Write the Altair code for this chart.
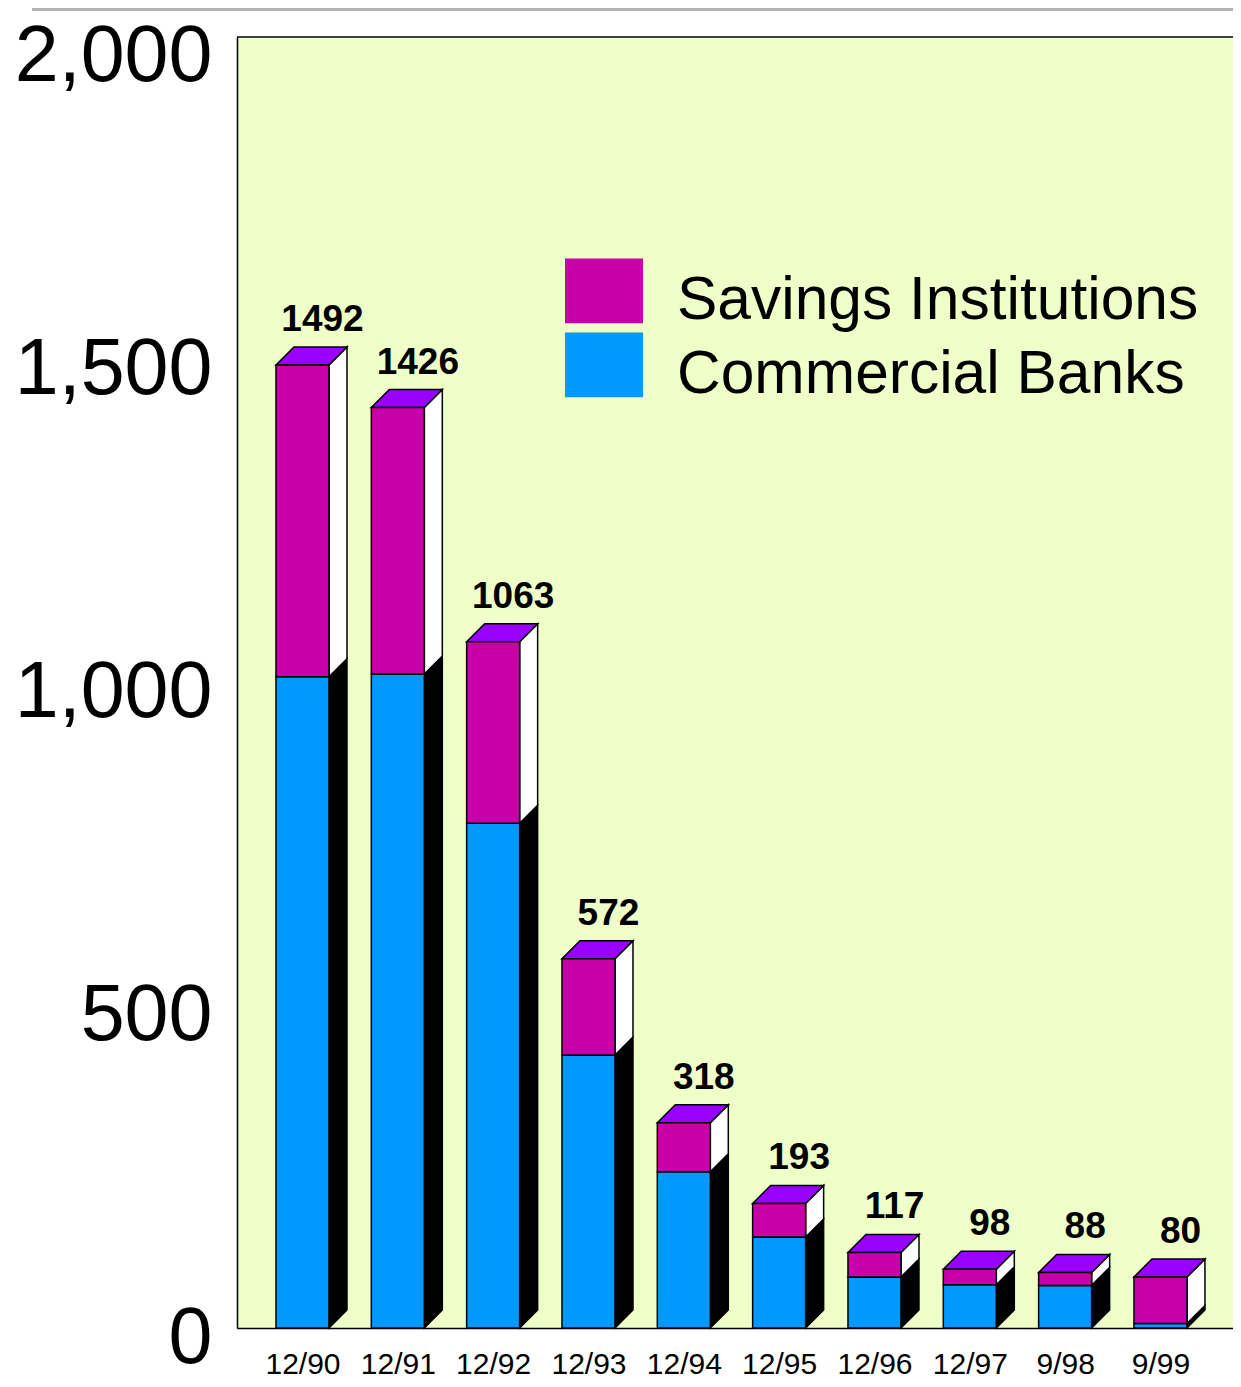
import altair as alt
import pandas as pd

# ---------------- data ----------------
periods = ["12/90", "12/91", "12/92", "12/93", "12/94", "12/95", "12/96", "12/97", "9/98", "9/99"]
commercial_banks = [1009, 1013, 782, 423, 242, 141, 79, 67, 66, 7]
savings_institutions = [483, 413, 281, 149, 76, 52, 38, 24, 20, 72]
total_labels = [1492, 1426, 1063, 572, 318, 193, 117, 98, 88, 80]
y_ticks = [0, 500, 1000, 1500, 2000]
series_names = ["Savings Institutions", "Commercial Banks"]
series_colors = ["#C800AA", "#0099FF"]

# ---------------- geometry / style ----------------
PLOT_W, PLOT_H = 996, 1291
PX_PER_CAT = 95.33
X_LO = -0.687
X_HI = X_LO + PLOT_W / PX_PER_CAT
Y_MAX = 2000
px_x = PLOT_W / (X_HI - X_LO)
px_y = PLOT_H / Y_MAX
HALF = 26.5 / px_x          # half width of front face
DX = 18 / px_x              # 3-D depth, horizontal
DY = 18 / px_y              # 3-D depth, vertical
TOP_COLOR = "#9900FF"
SIDE_COLORS = {"Savings Institutions": "#FFFFFF", "Commercial Banks": "#000000"}
FONT = "Liberation Sans"

front_rows, side_rows, top_rows, label_rows = [], [], [], []
for i, p in enumerate(periods):
    b = commercial_banks[i]
    s = savings_institutions[i]
    t = b + s
    for name, lo, hi in [("Commercial Banks", 0, b), ("Savings Institutions", b, t)]:
        front_rows.append(dict(x0=i - HALF, x1=i + HALF, y0=lo, y1=hi, series=name))
        fid = f"{p}-{name}"
        side_rows.append(dict(face=fid, x=i + HALF, lo=lo, hi=hi, fill=SIDE_COLORS[name]))
        side_rows.append(dict(face=fid, x=i + HALF + DX, lo=lo + DY, hi=hi + DY, fill=SIDE_COLORS[name]))
    for x, lo, hi in [(i - HALF, t, t), (i - HALF + DX, t, t + DY),
                      (i + HALF, t, t + DY), (i + HALF + DX, t + DY, t + DY)]:
        top_rows.append(dict(face=p, x=x, lo=lo, hi=hi, fill=TOP_COLOR))
    label_rows.append(dict(x=i, y=t, label=str(total_labels[i])))

front_df = pd.DataFrame(front_rows)
side_df = pd.DataFrame(side_rows)
top_df = pd.DataFrame(top_rows)
label_df = pd.DataFrame(label_rows)

label_expr = "[" + ",".join("'" + p + "'" for p in periods) + "][datum.value]"

x_scale = alt.Scale(domain=[X_LO, X_HI], nice=False, zero=False)
y_scale = alt.Scale(domain=[0, Y_MAX], nice=False, zero=True)

x_axis = alt.Axis(values=list(range(len(periods))), labelExpr=label_expr, title=None,
                  labelFont=FONT, labelFontSize=30, labelColor="black", labelPadding=21,
                  ticks=False, domain=True, domainColor="black", domainWidth=1.5,
                  grid=False, labelFlush=False, labelOverlap=False)
y_axis = alt.Axis(values=y_ticks, format=",.0f", title=None, labelFont=FONT, labelFontSize=79,
                  labelColor="black", labelPadding=25,
                  labelOffset={"condition": {"test": f"datum.value >= {Y_MAX}", "value": 19},
                               "value": 10},
                  labelLimit=400,
                  ticks=False, domain=True, domainColor="black", domainWidth=1.5,
                  grid=False, labelOverlap=False)

legend = alt.Legend(title=None, orient="none", legendX=328, legendY=225, direction="vertical",
                    symbolType="M-1,-1.09L1,-1.09L1,0.57L-1,0.57Z", symbolSize=6084,
                    symbolStrokeWidth=0, symbolOpacity=1, labelFont=FONT, labelFontSize=60.5,
                    labelColor="black", labelOffset=34, labelLimit=1000, rowPadding=0, padding=0)

front = alt.Chart(front_df).mark_rect(stroke="black", strokeWidth=1.5).encode(
    x=alt.X("x0:Q", scale=x_scale, axis=x_axis),
    x2="x1:Q",
    y=alt.Y("y0:Q", scale=y_scale, axis=y_axis),
    y2="y1:Q",
    color=alt.Color("series:N", scale=alt.Scale(domain=series_names, range=series_colors),
                    legend=legend),
)

side = alt.Chart(side_df).mark_area(stroke="black", strokeWidth=1.5, opacity=1).encode(
    x=alt.X("x:Q", scale=x_scale, axis=x_axis),
    y=alt.Y("lo:Q", scale=y_scale, axis=y_axis, stack=False),
    y2="hi:Q",
    detail="face:N",
    fill=alt.Fill("fill:N", scale=None),
)

top = alt.Chart(top_df).mark_area(stroke="black", strokeWidth=1.5, opacity=1).encode(
    x=alt.X("x:Q", scale=x_scale, axis=x_axis),
    y=alt.Y("lo:Q", scale=y_scale, axis=y_axis, stack=False),
    y2="hi:Q",
    detail="face:N",
    fill=alt.Fill("fill:N", scale=None),
)

labels = alt.Chart(label_df).mark_text(font=FONT, fontSize=37, fontWeight="bold", color="black",
                                       align="center", baseline="alphabetic", dx=20, dy=-34).encode(
    x=alt.X("x:Q", scale=x_scale, axis=x_axis),
    y=alt.Y("y:Q", scale=y_scale, axis=y_axis),
    text="label:N",
)

frame_top = alt.Chart(pd.DataFrame({"k": [0]})).mark_rule(color="black", strokeWidth=1.5).encode(
    x=alt.value(0), x2=alt.value(PLOT_W + 10), y=alt.value(0)
)

top_bar = alt.Chart(pd.DataFrame({"k": [0]})).mark_rule(color="#B4B4B4", strokeWidth=3).encode(
    x=alt.value(-205), x2=alt.value(PLOT_W + 10), y=alt.value(-27.5)
)

chart = alt.layer(side, top, front, labels, frame_top, top_bar).properties(
    width=PLOT_W, height=PLOT_H,
    padding={"left": 229, "top": 29, "right": 0, "bottom": 51},
    autosize=alt.AutoSizeParams(type="none"),
    background="white",
).configure_view(fill="#EEFFC8", strokeWidth=0)

chart.save("out.html", embed_options={"renderer": "svg", "actions": False})
